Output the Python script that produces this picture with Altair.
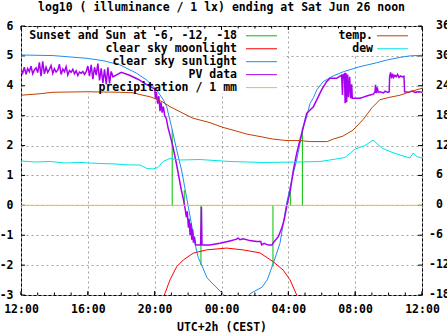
import altair as alt
import pandas as pd

FONT = "DejaVu Sans Mono"
FS = 11.5
TITLE = "log10 ( illuminance / 1 lx) ending at Sat Jun 26 noon"
X_TITLE = "UTC+2h (CEST)"

# hours since Fri 12:00
x_tick_hours = [0, 4, 8, 12, 16, 20, 24]
x_tick_labels = ["12:00", "16:00", "20:00", "00:00", "04:00", "08:00", "12:00"]
minor_hours = [0, 1, 2, 3, 4, 5, 6, 7, 8, 9, 10, 11, 12, 13, 14, 15, 16, 17, 18, 19, 20, 21, 22, 23, 24]
y_left_ticks = [-3, -2, -1, 0, 1, 2, 3, 4, 5, 6]
y_right_ticks = [-18, -12, -6, 0, 6, 12, 18, 24, 30, 36]

# sunset / sun at -6, -12 (evening), -12, -6, sunrise (morning)
sun_h = [9.05, 9.77, 10.77, 15.08, 16.12, 16.84]
sun_v = [2.52, 0.51, -2.00, -2.05, 0.46, 2.59]

moon_h = [8.58, 8.92, 9.32, 9.71, 10.31, 11.11, 12.31, 13.29, 14.30, 15.08, 15.68, 16.10, 16.50]
moon_v = [-3.0, -2.49, -2.05, -1.83, -1.60, -1.49, -1.43, -1.49, -1.59, -1.88, -2.16, -2.49, -3.0]

clear_h = [0.0, 1.92, 3.93, 4.91, 5.92, 6.92, 7.52, 8.12, 8.52, 8.72, 9.02, 9.32, 9.61, 9.81,
           10.01, 10.21, 10.41, 10.61, 10.89, 11.13, 11.43, 11.79, 12.09, 12.4, 13.4, 13.70,
           14.42, 14.74, 15.10, 15.50, 15.90, 16.20, 16.50, 16.70, 16.90, 17.10, 17.30, 17.50,
           17.70, 18.09, 18.69, 19.29, 20.29, 21.29, 21.88, 22.68, 23.28, 24.0]
clear_v = [5.03, 5.01, 4.92, 4.84, 4.70, 4.42, 4.19, 3.86, 3.53, 3.30, 2.60, 1.85, 1.18, 0.57,
           -0.04, -0.66, -1.27, -1.75, -2.10, -2.42, -2.60, -2.80, -2.97, -3.4, -3.4, -2.96,
           -2.74, -2.49, -1.94, -1.27, 0.07, 0.85, 1.52, 2.08, 2.63, 2.97, 3.41, 3.60,
           3.86, 4.14, 4.33, 4.47, 4.64, 4.77, 4.86, 4.95, 5.00, 5.02]

pv_h = [0.0, 0.1, 0.2, 0.3, 0.4, 0.5, 0.6, 0.7, 0.8, 0.9,
        1.0, 1.1, 1.2, 1.3, 1.4, 1.5, 1.6, 1.7, 1.8, 1.9,
        2.0, 2.1, 2.2, 2.3, 2.4, 2.5, 2.6, 2.7, 2.8, 2.9,
        3.0, 3.1, 3.2, 3.3, 3.4, 3.5, 3.6, 3.7, 3.8, 3.9,
        4.0, 4.1, 4.2, 4.3, 4.4, 4.5, 4.6, 4.7, 4.8, 4.9,
        5.0, 5.1, 5.2, 5.3, 5.4, 5.5,
        6.0, 6.5, 7.0, 7.5, 7.9,
        8.00, 8.05, 8.10, 8.18, 8.25, 8.32, 8.38, 8.45, 8.52, 8.60, 8.70, 8.80, 8.92,
        9.10, 9.30, 9.45, 9.60, 9.72, 9.82, 9.90, 9.95, 10.02, 10.06, 10.12, 10.17,
        10.22, 10.27, 10.32, 10.38, 10.45, 10.60, 10.75, 10.80, 10.83, 11.30, 11.90,
        12.50, 12.85, 13.00, 13.10, 13.30, 13.70, 14.10, 14.35, 14.40, 14.55, 14.80,
        15.02, 15.10, 15.40, 15.60, 15.75, 15.92, 16.12, 16.30, 16.50, 16.70, 16.90,
        17.10, 17.50, 17.70, 17.99, 18.29, 18.49, 18.89, 19.19,
        19.24, 19.28, 19.36, 19.40, 19.45, 19.49, 19.55, 19.60, 19.67, 19.73, 19.79, 19.83,
        20.29, 20.49, 20.69, 20.89, 21.09, 21.19, 21.22, 21.26, 21.32, 21.38, 21.49,
        21.69, 21.79, 21.95, 22.04, 22.06, 22.12, 22.18, 22.24, 22.30, 22.38, 22.46,
        22.54, 22.62, 22.72, 22.82, 22.92, 22.96, 23.2, 23.4, 23.6, 23.8, 24.0]
pv_v = [4.55, 4.42, 4.62, 4.38, 4.58, 4.47, 4.66, 4.40, 4.53, 4.60,
        4.44, 4.78, 4.32, 4.82, 4.40, 4.62, 4.45, 4.55, 4.68, 4.41,
        4.57, 4.46, 4.52, 4.72, 4.38, 4.56, 4.47, 4.64, 4.36, 4.51,
        4.45, 4.55, 4.40, 4.50, 4.34, 4.46, 4.42, 4.48, 4.38, 4.47,
        4.66, 4.32, 4.70, 4.22, 4.62, 4.36, 4.74, 4.18, 4.58, 4.10,
        4.55, 4.05, 4.62, 4.08, 4.48, 4.30,
        4.45, 4.35, 4.22, 4.05, 3.92,
        3.90, 3.55, 3.80, 3.40, 3.65, 3.15, 3.45, 3.10, 3.30, 3.00, 2.90, 2.60, 2.35,
        1.95, 1.40, 0.95, 0.50, 0.20, -0.10, -0.40, -0.20, -0.75, -0.45, -1.00, -0.60,
        -1.15, -0.80, -1.25, -1.05, -1.32, -1.33, -1.33, -0.05, -1.33, -1.33, -1.27,
        -1.19, -1.14, -1.10, -1.15, -1.12, -1.18, -1.21, -1.21, -1.32, -1.27, -1.33,
        -1.33, -1.25, -1.05, -0.77, -0.49, 0.01, 0.51, 1.18, 1.74, 2.19, 2.63,
        3.08, 3.30, 3.53, 3.86, 4.14, 4.25, 4.25, 4.36,
        3.69, 4.36, 4.40, 3.42, 4.43, 3.45, 4.38, 3.62, 4.30, 3.58, 4.05, 3.58,
        3.58, 3.62, 3.66, 3.69, 3.72, 3.80, 4.03, 3.75, 3.95, 3.78, 3.80,
        3.76, 3.82, 3.78, 3.80, 4.30, 4.45, 4.25, 4.40, 4.28, 4.35, 4.30,
        4.38, 4.28, 4.33, 4.30, 4.32, 3.80, 3.78, 3.82, 3.78, 3.80, 3.78]

precip_h = [0, 24]
precip_v = [0, 0]

temp_h = [0.0, 1.14, 1.92, 3.95, 5.92, 6.70, 7.30, 7.72, 8.14, 8.50, 8.92, 9.69, 10.29, 11.31,
          12.03, 12.69, 13.52, 14.48, 15.08, 15.92, 16.70, 17.31, 18.33, 18.69, 19.27, 19.87,
          20.47, 21.01, 21.48, 22.08, 22.68, 23.28, 24.0]
temp_c = [22.1, 22.4, 22.7, 22.8, 22.7, 22.6, 22.1, 21.8, 21.3, 20.7, 19.8, 18.5, 17.5, 16.6,
          15.7, 15.1, 14.3, 13.7, 13.3, 13.0, 13.0, 12.8, 12.8, 13.3, 13.9, 15.1,
          17.2, 19.6, 21.2, 21.7, 22.1, 22.8, 23.5]

dew_h = [0.0, 0.84, 1.74, 2.63, 3.53, 4.73, 5.63, 6.52, 7.12, 7.54, 7.90, 8.20, 8.50, 8.92,
         9.52, 10.71, 12.51, 14.48, 16.70, 17.89, 18.49, 19.39, 19.99, 20.59, 21.07, 21.60,
         22.08, 22.68, 23.28, 23.46, 23.70, 24.0]
dew_c = [8.9, 8.7, 8.8, 8.5, 8.6, 8.4, 8.3, 8.1, 8.1, 7.4, 7.3, 7.6, 8.8, 9.4,
         9.1, 9.2, 8.8, 8.6, 8.7, 8.8, 9.1, 9.6, 11.3, 12.0, 13.1, 11.5,
         10.8, 10.1, 9.5, 10.5, 9.8, 9.5]

legend_left_labels = ["Sunset and Sun at -6, -12, -18", "clear sky moonlight",
                      "clear sky sunlight", "PV data", "precipitation / 1 mm"]
legend_right_labels = ["temp.", "dew"]

GREEN, RED, BLUE, PURPLE, ORANGE = "#00c000", "#ff0000", "#1e8cf0", "#a800f0", "#f2b83a"
BROWN, CYAN = "#c04000", "#00e5e5"
legend_left_colors = [GREEN, RED, BLUE, PURPLE, ORANGE]
legend_right_colors = [BROWN, CYAN]
GRID = "#a0a0a0"

W, H = 401, 269

label_expr = ("[" + ",".join("'%s'" % s for s in x_tick_labels) + "][indexof(["
              + ",".join(str(h) for h in x_tick_hours) + "], datum.value)]")

x_axis = alt.Axis(values=x_tick_hours, labelExpr=label_expr, grid=True, gridColor=GRID,
                  gridDash=[2, 3], gridWidth=1, domain=False, ticks=False, tickSize=0,
                  labelPadding=8.3, labelFont=FONT, labelFontSize=FS, labelFontWeight="bold",
                  labelColor="black", labelFlush=False, labelOverlap=False,
                  title=X_TITLE, titleFont=FONT, titleFontSize=FS, titleFontWeight="bold",
                  titleColor="black", titleX=W / 2, titleY=35.5, titleBaseline="alphabetic",
                  titleAlign="center")
left_axis = alt.Axis(values=y_left_ticks,
                     labelExpr="datum.value < 0 ? '-' + abs(datum.value) : '' + datum.value",
                     grid=True, gridColor=GRID, gridDash=[2, 3], gridWidth=1, domain=False,
                     ticks=False, tickSize=0, labelPadding=8, labelAlign="right",
                     labelBaseline="middle", labelFont=FONT, labelFontSize=FS,
                     labelFontWeight="bold", labelColor="black", labelFlush=False,
                     labelOverlap=False, title=None)
right_axis = alt.Axis(orient="right", values=y_right_ticks, labels=False,
                      grid=False, domain=False, ticks=False, tickSize=0, title=None)

X = alt.X("h:Q", scale=alt.Scale(domain=[0, 24], nice=False, zero=False), axis=x_axis)
YL = alt.Y("v:Q", scale=alt.Scale(domain=[-3, 6], nice=False, zero=False), axis=left_axis)
YR = alt.Y("t:Q", scale=alt.Scale(domain=[-18, 36], nice=False, zero=False), axis=right_axis)

one = pd.DataFrame({"a": [0]})

# legend backgrounds (hide grid)
rect_l = alt.Chart(one).mark_rect(color="white").encode(
    x=alt.value(1), x2=alt.value(262), y=alt.value(1), y2=alt.value(67))
rect_r = alt.Chart(one).mark_rect(color="white").encode(
    x=alt.value(279), x2=alt.value(400), y=alt.value(1), y2=alt.value(29))

# inward ticks
minor_df = pd.DataFrame({"h": minor_hours})
major_df = pd.DataFrame({"h": x_tick_hours})
ytick_df = pd.DataFrame({"v": y_left_ticks})
tk = dict(color="black", strokeWidth=1)
ticks = [
    alt.Chart(minor_df).mark_rule(**tk).encode(x=X, y=alt.value(H), y2=alt.value(H - 2.5)),
    alt.Chart(minor_df).mark_rule(**tk).encode(x=X, y=alt.value(0), y2=alt.value(2.5)),
    alt.Chart(major_df).mark_rule(**tk).encode(x=X, y=alt.value(H), y2=alt.value(H - 4)),
    alt.Chart(major_df).mark_rule(**tk).encode(x=X, y=alt.value(0), y2=alt.value(4)),
    alt.Chart(ytick_df).mark_rule(**tk).encode(y=YL, x=alt.value(0), x2=alt.value(4)),
    alt.Chart(ytick_df).mark_rule(**tk).encode(y=YL, x=alt.value(W), x2=alt.value(W - 4)),
]

sun_df = pd.DataFrame({"h": sun_h, "v": sun_v, "z": [0] * len(sun_h)})
sun = alt.Chart(sun_df).mark_rule(color=GREEN, strokeWidth=1, clip=True).encode(
    x=X, y=YL, y2="z:Q")


def line(hs, vs, color, width=1.0):
    df = pd.DataFrame({"h": hs, "v": vs})
    return alt.Chart(df).mark_line(color=color, strokeWidth=width, clip=True).encode(x=X, y=YL)


moon = line(moon_h, moon_v, RED)
clear = line(clear_h, clear_v, BLUE)
pv = line(pv_h, pv_v, PURPLE, 1.5)
precip = line(precip_h, precip_v, ORANGE)

left = alt.layer(rect_l, rect_r, *ticks, sun, moon, clear, pv, precip)

temp = alt.Chart(pd.DataFrame({"h": temp_h, "t": temp_c})).mark_line(
    color=BROWN, strokeWidth=1, clip=True).encode(x=X, y=YR)
dew = alt.Chart(pd.DataFrame({"h": dew_h, "t": dew_c})).mark_line(
    color=CYAN, strokeWidth=1, clip=True).encode(x=X, y=YR)

# right-axis labels (gnuplot style: sign column, hyphen minus)
rl = pd.DataFrame({"t": y_right_ticks, "s": [str(v) for v in y_right_ticks]})
rtxt = dict(font=FONT, fontSize=FS, fontWeight="bold", color="black", align="left",
            baseline="middle")
rlab_neg = alt.Chart(rl[rl["t"] < 0]).mark_text(**rtxt).encode(
    y=YR, text="s:N", x=alt.value(W + 7))
rlab_pos = alt.Chart(rl[rl["t"] >= 0]).mark_text(**rtxt).encode(
    y=YR, text="s:N", x=alt.value(W + 14))
right = alt.layer(temp, dew, rlab_neg, rlab_pos)

# legend entries
leg = []
txt = dict(font=FONT, fontSize=FS, fontWeight="bold", color="black", align="right",
           baseline="middle")
for i, (lab, col) in enumerate(zip(legend_left_labels, legend_left_colors)):
    yy = 9.8 + 12.95 * i
    leg.append(alt.Chart(pd.DataFrame({"s": [lab]})).mark_text(**txt).encode(
        text="s:N", x=alt.value(216), y=alt.value(yy)))
    leg.append(alt.Chart(one).mark_rule(color=col, strokeWidth=1).encode(
        x=alt.value(225), x2=alt.value(256), y=alt.value(yy)))
for i, (lab, col) in enumerate(zip(legend_right_labels, legend_right_colors)):
    yy = 9.8 + 12.95 * i
    leg.append(alt.Chart(pd.DataFrame({"s": [lab]})).mark_text(**txt).encode(
        text="s:N", x=alt.value(352), y=alt.value(yy)))
    leg.append(alt.Chart(one).mark_rule(color=col, strokeWidth=1).encode(
        x=alt.value(356), x2=alt.value(387), y=alt.value(yy)))

title = alt.Chart(pd.DataFrame({"s": [TITLE]})).mark_text(
    font=FONT, fontSize=FS, fontWeight="bold", color="black", align="center",
    baseline="alphabetic").encode(text="s:N", x=alt.value(W / 2), y=alt.value(-14.6))

legend_layer = alt.layer(*leg, title)

chart = alt.layer(left, right, legend_layer).resolve_scale(y="independent").properties(
    width=W, height=H,
    autosize=alt.AutoSizeParams(type="none"),
    padding={"left": 21, "top": 26, "right": 25, "bottom": 40},
    background="white",
).configure_view(stroke="black", strokeWidth=1)

chart.save("out.html", embed_options={"renderer": "svg", "actions": False})
